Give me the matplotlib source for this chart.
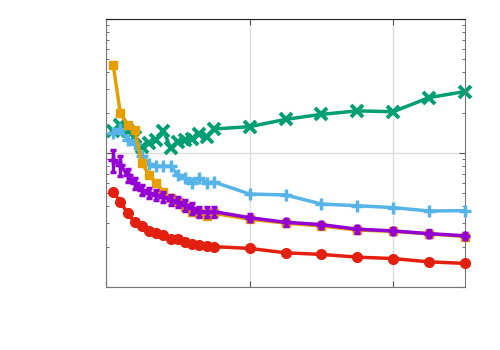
import numpy as np
import matplotlib
matplotlib.use('Agg')
import matplotlib.pyplot as plt


# x positions of the samples
x = [5, 10, 15, 20, 25, 30, 35, 40, 45, 50, 55, 60, 65, 70, 75,
     100, 125, 150, 175, 200, 225, 250]

# series values
green = [1.46, 1.62, 1.46, 1.32, 1.11, 1.19, 1.25, 1.46, 1.09, 1.21, 1.25,
         1.27, 1.39, 1.32, 1.51, 1.57, 1.78, 1.94, 2.06, 2.03, 2.59, 2.87]
blue = [1.41, 1.51, 1.25, 1.17, 0.95, 0.83, 0.80, 0.795, 0.80, 0.685, 0.651,
        0.597, 0.651, 0.597, 0.608, 0.494, 0.486, 0.416, 0.404, 0.391, 0.369, 0.371]
orange = [4.54, 1.98, 1.62, 1.485, 0.838, 0.685, 0.594, 0.514, 0.459, 0.433,
          0.397, 0.365, 0.355, 0.340, 0.355, 0.320, 0.300, 0.285, 0.266, 0.260,
          0.249, 0.238]
purple = [0.887, 0.814, 0.685, 0.597, 0.530, 0.503, 0.486, 0.472, 0.446, 0.433,
          0.409, 0.387, 0.365, 0.365, 0.365, 0.329, 0.304, 0.292, 0.270, 0.262,
          0.250, 0.241]
purple_err = [0.16, 0.14, 0.08, 0.055, 0.048, 0.045, 0.044, 0.042, 0.04, 0.039,
              0.037, 0.035, 0.033, 0.033, 0.033, 0.02, 0.018, 0.016, 0.015, 0.015,
              0.014, 0.014]
red = [0.514, 0.433, 0.355, 0.304, 0.287, 0.262, 0.252, 0.244, 0.228, 0.227,
       0.216, 0.209, 0.207, 0.203, 0.200, 0.194, 0.180, 0.175, 0.167, 0.163,
       0.154, 0.150]

fig = plt.figure(figsize=(5, 3.5), dpi=100)
ax = fig.add_axes([0.212, 0.18, 0.718, 0.766])

ax.plot(x, green, color='#009E73', lw=2.5, marker='x', ms=8, mew=2.8, zorder=2, clip_on=False)
ax.plot(x, blue, color='#56B4E9', lw=2.5, marker='+', ms=8, mew=2.5, zorder=3, clip_on=False)
ax.plot(x, orange, color='#E69F00', lw=2.5, marker='s', ms=6, zorder=4, clip_on=False)
ax.errorbar(x, purple, yerr=purple_err, color='#9400D3', lw=2.5, marker='+', ms=7, mew=2.5,
            elinewidth=2.5, capsize=2.5, capthick=2, zorder=5, clip_on=False)
ax.plot(x, red, color='#E3200F', lw=2.5, marker='o', ms=7, zorder=6, clip_on=False)

ax.set_yscale('log')
ax.set_xlim(0, 250)
ax.set_ylim(0.1, 10)
ax.set_xticks([0, 100, 200])
ax.grid(True, which='major', color='#dddddd', lw=1)
ax.set_axisbelow(True)
ax.tick_params(which='both', direction='in', top=True, right=True,
               labelbottom=False, labelleft=False, color='#555555')
ax.tick_params(which='major', length=4)
ax.tick_params(which='minor', length=2)
for side in ['left', 'right', 'bottom']:
    ax.spines[side].set_color('#777777')
ax.spines['top'].set_color('#222222')

fig.savefig('out.png', dpi=100)
